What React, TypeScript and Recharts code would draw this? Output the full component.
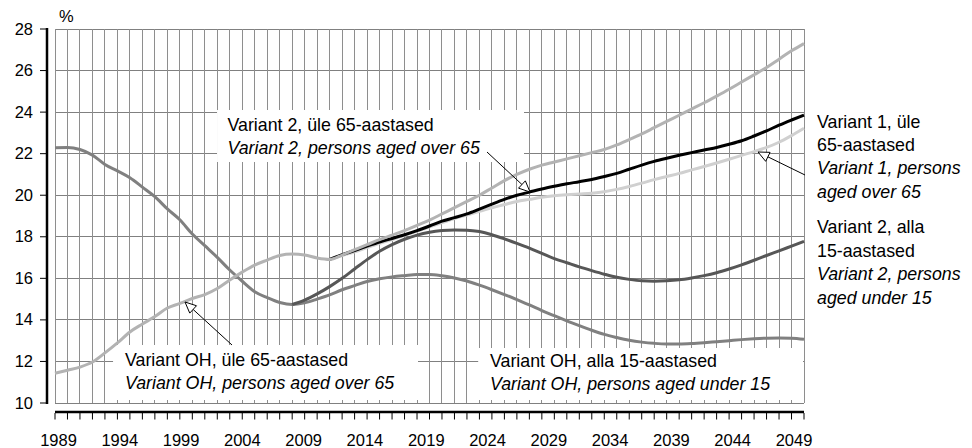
import { LineChart, Line, XAxis, YAxis, CartesianGrid, ReferenceArea } from 'recharts';

const FONT = "'Liberation Sans', Arial, sans-serif";
const PLOT_W = 749;
const PLOT_H = 374;

const years = [
  1989, 1990, 1991, 1992, 1993, 1994, 1995, 1996, 1997, 1998,
  1999, 2000, 2001, 2002, 2003, 2004, 2005, 2006, 2007, 2008,
  2009, 2010, 2011, 2012, 2013, 2014, 2015, 2016, 2017, 2018,
  2019, 2020, 2021, 2022, 2023, 2024, 2025, 2026, 2027, 2028,
  2029, 2030, 2031, 2032, 2033, 2034, 2035, 2036, 2037, 2038,
  2039, 2040, 2041, 2042, 2043, 2044, 2045, 2046, 2047, 2048,
  2049,
];
const labelYears = [1989, 1994, 1999, 2004, 2009, 2014, 2019, 2024, 2029, 2034, 2039, 2044, 2049];
const yTicks = [10, 12, 14, 16, 18, 20, 22, 24, 26, 28];

// Variant OH, alla 15-aastased (incl. history 1989-2008)
const under15OH = [
  22.29, 22.3, 22.2, 21.93, 21.48, 21.17, 20.84, 20.39, 19.93, 19.34,
  18.82, 18.13, 17.57, 17.01, 16.4, 15.86, 15.36, 15.07, 14.84, 14.74,
  14.82, 15.0, 15.2, 15.45, 15.65, 15.85, 15.98, 16.07, 16.13, 16.18,
  16.18, 16.12, 16.02, 15.87, 15.67, 15.45, 15.22, 14.98, 14.72, 14.45,
  14.2, 13.95, 13.72, 13.5, 13.3, 13.15, 13.02, 12.93, 12.87, 12.84,
  12.84, 12.86, 12.9, 12.95, 13.0, 13.05, 13.09, 13.12, 13.13, 13.12,
  13.07,
];
// Variant 2, alla 15-aastased, 2008-2049
const under15V2 = [
  14.74, 14.95, 15.25, 15.6, 16.0, 16.45, 16.9, 17.3, 17.62, 17.88,
  18.08, 18.22, 18.3, 18.33, 18.32, 18.25, 18.1, 17.9, 17.68, 17.45,
  17.2, 16.95, 16.75, 16.55, 16.37, 16.2, 16.05, 15.95, 15.88, 15.86,
  15.88, 15.93, 16.02, 16.13, 16.27, 16.45, 16.65, 16.87, 17.1, 17.32,
  17.55, 17.78,
];
// Variant OH, üle 65-aastased (incl. history)
const over65OH = [
  11.43, 11.58, 11.73, 11.97, 12.41, 12.89, 13.42, 13.8, 14.16, 14.57,
  14.79, 15.03, 15.22, 15.51, 15.92, 16.3, 16.64, 16.88, 17.1, 17.17,
  17.12, 16.98, 16.91, 17.12, 17.38, 17.62, 17.86, 18.08, 18.3, 18.55,
  18.8, 19.1, 19.4, 19.7, 20.0, 20.35, 20.7, 21.0, 21.25, 21.45,
  21.6, 21.75, 21.9, 22.05, 22.2, 22.42, 22.68, 22.95, 23.25, 23.55,
  23.85, 24.15, 24.45, 24.77, 25.1, 25.45, 25.8, 26.15, 26.55, 26.95,
  27.3,
];
// Variant 2, üle 65-aastased, 2011-2049
const over65V2 = [
  16.91, 17.14, 17.34, 17.55, 17.75, 17.92, 18.1, 18.3, 18.52,
  18.75, 18.92, 19.1, 19.33, 19.57, 19.8, 20.0, 20.15, 20.3, 20.43,
  20.55, 20.65, 20.76, 20.9, 21.05, 21.25, 21.45, 21.63, 21.78, 21.92,
  22.05, 22.18, 22.3, 22.45, 22.62, 22.85, 23.1, 23.37, 23.62, 23.86,
];
// Variant 1, üle 65-aastased, 2011-2049
const over65V1 = [
  16.91, 17.1, 17.28, 17.48, 17.68, 17.87, 18.07, 18.27, 18.48,
  18.68, 18.88, 19.05, 19.22, 19.4, 19.55, 19.7, 19.8, 19.9, 19.97,
  20.02, 20.06, 20.1, 20.17, 20.28, 20.42, 20.58, 20.75, 20.9, 21.05,
  21.22, 21.38, 21.55, 21.73, 21.92, 22.1, 22.3, 22.55, 22.87, 23.22,
];

const data = years.map((year, i) => ({
  year,
  u15OH: under15OH[i],
  u15V2: year >= 2008 ? under15V2[year - 2008] : null,
  o65OH: over65OH[i],
  o65V2: year >= 2011 ? over65V2[year - 2011] : null,
  o65V1: year >= 2011 ? over65V1[year - 2011] : null,
}));

const XTick = (props: any) => {
  const { x, y, payload } = props;
  const yr = payload.value;
  const shift = 3.5 - ((yr - 1989) / 60) * 13.5;
  return (
    <g>
      {yr === 1989 && <line x1={x} x2={x + PLOT_W} y1={y + 9} y2={y + 9} stroke="#000" strokeWidth={2.5} />}
      <line x1={x} x2={x} y1={y + 10} y2={y + 16.5} stroke="#000" strokeWidth={1} />
      {labelYears.includes(yr) && (
        <text x={x + shift} y={y + 43} textAnchor="middle" fontSize={16.5} fontFamily={FONT} fill="#000">
          {yr}
        </text>
      )}
    </g>
  );
};

const YTick = (props: any) => {
  const { x, y, payload } = props;
  return (
    <g>
      {payload.value === 10 && <line x1={x - 8} x2={x - 8} y1={y + 1} y2={y - PLOT_H - 1} stroke="#000" strokeWidth={2.5} />}
      <line x1={x - 15} x2={x - 8} y1={y} y2={y} stroke="#000" strokeWidth={1} />
      <text x={x - 22} y={y + 5.5} textAnchor="end" fontSize={16.5} fontFamily={FONT} fill="#000">
        {payload.value}
      </text>
    </g>
  );
};

const Arrow = ({ x1, y1, x2, y2 }: { x1: number; y1: number; x2: number; y2: number }) => {
  const len = Math.hypot(x2 - x1, y2 - y1);
  const ux = (x2 - x1) / len;
  const uy = (y2 - y1) / len;
  const bx = x2 - ux * 11;
  const by = y2 - uy * 11;
  const pts = `${x2},${y2} ${bx - uy * 5},${by + ux * 5} ${bx + uy * 5},${by - ux * 5}`;
  return (
    <g>
      <line x1={x1} y1={y1} x2={bx} y2={by} stroke="#000" strokeWidth={1} />
      <polygon points={pts} fill="#fff" stroke="#000" strokeWidth={1} />
    </g>
  );
};

const Lines = ({ x, y, lines }: { x: number; y: number; lines: [string, boolean][] }) => (
  <text fontFamily={FONT} fontSize={17.8} fill="#000">
    {lines.map(([t, it], i) => (
      <tspan key={i} x={x} y={y + i * 23.4} fontStyle={it ? 'italic' : 'normal'}>
        {t}
      </tspan>
    ))}
  </text>
);

const Annotations = () => (
  <svg width={972} height={448} style={{ position: 'absolute', left: 0, top: 0, pointerEvents: 'none' }}>
    <text x={59} y={22} fontFamily={FONT} fontSize={16.5} fill="#000">%</text>
    <Lines x={227.5} y={130.5} lines={[['Variant 2, üle 65-aastased', false], ['Variant 2, persons aged over 65', true]]} />
    <Lines x={125} y={366} lines={[['Variant OH, üle 65-aastased', false], ['Variant OH, persons aged over 65', true]]} />
    <Lines x={490} y={367} lines={[['Variant OH, alla 15-aastased', false], ['Variant OH, persons aged under 15', true]]} />
    <Lines
      x={817}
      y={127.5}
      lines={[['Variant 1, üle', false], ['65-aastased', false], ['Variant 1, persons', true], ['aged over 65', true]]}
    />
    <Lines
      x={817}
      y={233.3}
      lines={[['Variant 2, alla', false], ['15-aastased', false], ['Variant 2, persons', true], ['aged under 15', true]]}
    />
    <Arrow x1={487} y1={152} x2={530} y2={192} />
    <Arrow x1={805} y1={175} x2={758} y2={152} />
    <Arrow x1={232} y1={345} x2={185} y2={302} />
  </svg>
);

const App = () => (
  <div style={{ position: 'absolute', left: 0, top: 0, width: 972, height: 448, background: '#fff' }}>
    <LineChart width={972} height={448} data={data} margin={{ top: 29, right: 168, bottom: 0, left: 8 }}>
      <CartesianGrid vertical={false} stroke="#808080" shapeRendering="crispEdges" />
      <CartesianGrid horizontal={false} stroke="#8e8e8e" shapeRendering="crispEdges" />
      <XAxis
        dataKey="year"
        type="number"
        domain={[1989, 2049]}
        ticks={years}
        interval={0}
        height={45}
        tickSize={0}
        tickMargin={0}
        tickLine={false}
        tick={XTick}
        axisLine={false}
      />
      <YAxis
        type="number"
        domain={[10, 28]}
        ticks={yTicks}
        interval={0}
        width={47}
        tickSize={0}
        tickMargin={0}
        tickLine={false}
        tick={YTick}
        axisLine={false}
      />
      <ReferenceArea x1={2001.98} x2={2026.57} y1={21.6} y2={24.1} fill="#fff" fillOpacity={1} stroke="none" />
      <ReferenceArea x1={1993.65} x2={2018.08} y1={10.14} y2={12.79} fill="#fff" fillOpacity={1} stroke="none" />
      <ReferenceArea x1={2022.9} x2={2048.92} y1={10.14} y2={12.65} fill="#fff" fillOpacity={1} stroke="none" />
      <Line dataKey="u15OH" type="monotone" stroke="#808080" strokeWidth={3} dot={false} activeDot={false} isAnimationActive={false} />
      <Line dataKey="u15V2" type="monotone" stroke="#575757" strokeWidth={3} dot={false} activeDot={false} isAnimationActive={false} />
      <Line dataKey="o65V1" type="monotone" stroke="#d0d0d0" strokeWidth={3} dot={false} activeDot={false} isAnimationActive={false} />
      <Line dataKey="o65V2" type="monotone" stroke="#000000" strokeWidth={3} dot={false} activeDot={false} isAnimationActive={false} />
      <Line dataKey="o65OH" type="monotone" stroke="#b3b3b3" strokeWidth={3} dot={false} activeDot={false} isAnimationActive={false} />
    </LineChart>
    <Annotations />
  </div>
);

export default App;
